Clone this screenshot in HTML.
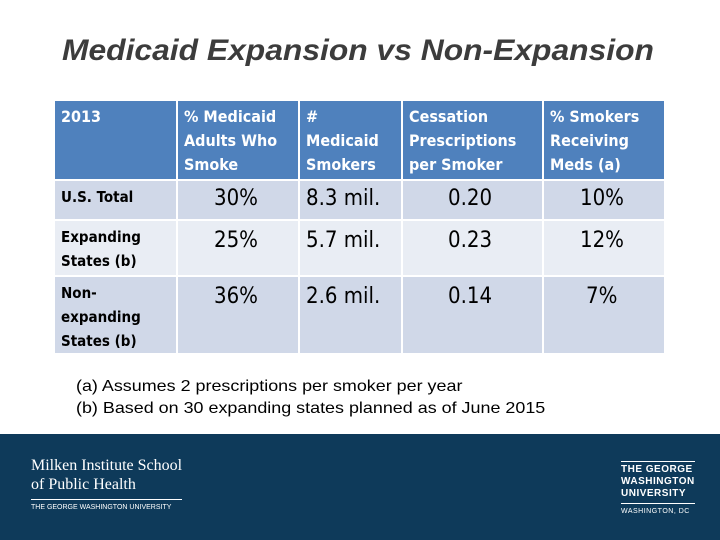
<!DOCTYPE html>
<html><head><meta charset="utf-8"><style>
body{margin:0;width:720px;height:540px;background:#fff;position:relative;overflow:hidden;font-family:"Liberation Sans",sans-serif}
.a{position:absolute}
.c{position:absolute;box-sizing:border-box;padding:4px 6px;font-family:"DejaVu Sans Condensed","Liberation Sans Narrow","Liberation Sans",sans-serif;line-height:24px}
.h{background:#4f81bd;color:#fff;font-size:16px;font-weight:bold}
.r1{background:#d0d8e8}.r2{background:#e9edf4}
.lab{font-size:15px;font-weight:bold;color:#000;line-height:24px}
.v{font-size:22px;color:#000;padding-top:8px}
</style></head><body>
<div class="a" style="left:62px;top:34px;font-size:30px;font-style:italic;font-weight:bold;color:#3c3c3c;white-space:nowrap;transform:scale(1.06,1);transform-origin:0 0">Medicaid Expansion vs Non-Expansion</div>
<div>
<div class="c h" style="left:55px;top:101px;width:121px;height:78px">2013</div>
<div class="c h" style="left:178px;top:101px;width:120px;height:78px">% Medicaid<br>Adults Who<br>Smoke</div>
<div class="c h" style="left:300px;top:101px;width:101px;height:78px">#<br>Medicaid<br>Smokers</div>
<div class="c h" style="left:403px;top:101px;width:139px;height:78px">Cessation<br>Prescriptions<br>per Smoker</div>
<div class="c h" style="left:544px;top:101px;width:120px;height:78px">% Smokers<br>Receiving<br>Meds (a)</div>

<div class="c r1 lab" style="left:55px;top:181px;width:121px;height:38px">U.S. Total</div>
<div class="c r1 v" style="left:178px;top:181px;width:120px;height:38px;padding-left:36px;padding-top:6px">30%</div>
<div class="c r1 v" style="left:300px;top:181px;width:101px;height:38px;padding-top:6px">8.3 mil.</div>
<div class="c r1 v" style="left:403px;top:181px;width:139px;height:38px;padding-left:45px;padding-top:6px">0.20</div>
<div class="c r1 v" style="left:544px;top:181px;width:120px;height:38px;padding-left:36px;padding-top:6px">10%</div>

<div class="c r2 lab" style="left:55px;top:221px;width:121px;height:54px">Expanding States (b)</div>
<div class="c r2 v" style="left:178px;top:221px;width:120px;height:54px;padding-left:36px">25%</div>
<div class="c r2 v" style="left:300px;top:221px;width:101px;height:54px">5.7 mil.</div>
<div class="c r2 v" style="left:403px;top:221px;width:139px;height:54px;padding-left:45px">0.23</div>
<div class="c r2 v" style="left:544px;top:221px;width:120px;height:54px;padding-left:36px">12%</div>

<div class="c r1 lab" style="left:55px;top:277px;width:121px;height:76px">Non-<br>expanding States (b)</div>
<div class="c r1 v" style="left:178px;top:277px;width:120px;height:76px;padding-left:36px">36%</div>
<div class="c r1 v" style="left:300px;top:277px;width:101px;height:76px">2.6 mil.</div>
<div class="c r1 v" style="left:403px;top:277px;width:139px;height:76px;padding-left:45px">0.14</div>
<div class="c r1 v" style="left:544px;top:277px;width:120px;height:76px;padding-left:42px">7%</div>
</div>
<div class="a" style="left:76px;top:376px;font-size:16px;line-height:22px;color:#000;white-space:nowrap;transform:scale(1.12,1);transform-origin:0 0">(a) Assumes 2 prescriptions per smoker per year<br>(b) Based on 30 expanding states planned as of June 2015</div>
<div class="a" style="left:0;top:434px;width:720px;height:106px;background:#0e3a5a">
<div class="a" style="left:31px;top:22px;color:#fff;font-family:'Liberation Serif',serif;font-size:16px;line-height:19px">Milken Institute School<br>of Public Health
<div style="border-top:1px solid #fff;margin-top:5px;padding-top:3px;font-family:'Liberation Sans',sans-serif;font-size:7px;line-height:9px">THE GEORGE WASHINGTON UNIVERSITY</div></div>
<div class="a" style="left:621px;top:27px;color:#fff;font-size:10px;line-height:12px;font-weight:bold;letter-spacing:0.5px;border-top:1px solid #fff;padding-top:2px">THE GEORGE<br>WASHINGTON<br>UNIVERSITY
<div style="border-top:1px solid #fff;margin-top:3px;padding-top:3px;font-size:7px;font-weight:normal;line-height:9px">WASHINGTON, DC</div></div>
</div>
</body></html>
